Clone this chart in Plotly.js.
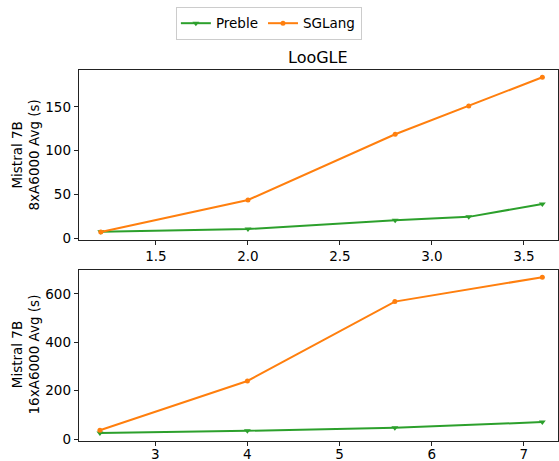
<!DOCTYPE html>
<html><head><meta charset="utf-8">
<script src="https://cdn.plot.ly/plotly-3.0.1.min.js"></script>
<style>html,body{margin:0;padding:0;background:#fff}</style>
</head><body><div id="chart" style="width:559px;height:461px"></div>
<script>
// Top panel: 8xA6000
const topX = [1.2, 2.0, 2.8, 3.2, 3.6];
const topPreble = [8, 11, 21, 24.8, 39.5];
const topSGLang = [7.5, 44, 118.8, 151, 183.6];
// Bottom panel: 16xA6000
const botX = [2.4, 4.0, 5.6, 7.2];
const botPreble = [25, 34, 47, 70];
const botSGLang = [36, 240, 568, 669];

const title = "LooGLE";
const yTitleTop = "Mistral 7B<br>8xA6000 Avg (s)";
const yTitleBot = "Mistral 7B<br>16xA6000 Avg (s)";

const green = '#2ca02c', orange = '#ff7f0e';
const FONT = 'DejaVu Sans, sans-serif';

const traces = [
  {x: topX, y: topPreble, name: 'Preble', mode: 'lines+markers', xaxis: 'x', yaxis: 'y',
   line: {color: green, width: 2}, marker: {symbol: 'triangle-down', size: 6, color: green}, legendgroup: 'p'},
  {x: topX, y: topSGLang, name: 'SGLang', mode: 'lines+markers', xaxis: 'x', yaxis: 'y',
   line: {color: orange, width: 2}, marker: {symbol: 'circle', size: 5, color: orange}, legendgroup: 's'},
  {x: botX, y: botPreble, name: 'Preble', mode: 'lines+markers', xaxis: 'x2', yaxis: 'y2', showlegend: false,
   line: {color: green, width: 2}, marker: {symbol: 'triangle-down', size: 6, color: green}, legendgroup: 'p'},
  {x: botX, y: botSGLang, name: 'SGLang', mode: 'lines+markers', xaxis: 'x2', yaxis: 'y2', showlegend: false,
   line: {color: orange, width: 2}, marker: {symbol: 'circle', size: 5, color: orange}, legendgroup: 's'}
];

const ax = {
  showline: true, mirror: true, linecolor: '#222', linewidth: 1,
  showgrid: false, zeroline: false, ticks: 'outside', ticklen: 4, tickcolor: '#222',
  tickfont: {family: FONT, size: 13.5, color: '#000'}
};

const layout = {
  width: 559, height: 461,
  margin: {l: 0, r: 0, t: 0, b: 0},
  paper_bgcolor: '#fff', plot_bgcolor: '#fff',
  font: {family: FONT, color: '#000'},
  showlegend: true,
  legend: {orientation: 'h', x: 0.481, xanchor: 'center', y: 0.985, yanchor: 'top',
    bordercolor: '#cccccc', borderwidth: 1, font: {family: FONT, size: 13.5}},
  xaxis: Object.assign({}, ax, {domain: [0.1408, 0.9982], range: [1.08, 3.685], anchor: 'y',
    tickvals: [1.5, 2.0, 2.5, 3.0, 3.5], ticktext: ['1.5','2.0','2.5','3.0','3.5']}),
  yaxis: Object.assign({}, ax, {domain: [0.4794, 0.8488], range: [-1.5, 192.2], anchor: 'x',
    tickvals: [0, 50, 100, 150]}),
  xaxis2: Object.assign({}, ax, {domain: [0.1408, 0.9982], range: [2.17, 7.37], anchor: 'y2',
    tickvals: [3, 4, 5, 6, 7], ticklabelstandoff: -3}),
  yaxis2: Object.assign({}, ax, {domain: [0.044, 0.415], range: [-7, 700], anchor: 'x2',
    tickvals: [0, 200, 400, 600]}),
  annotations: [
    {text: title, xref: 'paper', yref: 'paper', x: 0.5693, y: 1 - 57/461, xanchor: 'center', yanchor: 'middle',
     showarrow: false, font: {family: FONT, size: 16, color: '#000'}},
    {text: yTitleTop, xref: 'paper', yref: 'paper', x: 25.5/559, y: 1 - 155/461, xanchor: 'center', yanchor: 'middle',
     textangle: -90, showarrow: false, font: {family: FONT, size: 13.5, color: '#000'}},
    {text: yTitleBot, xref: 'paper', yref: 'paper', x: 25.5/559, y: 1 - 355/461, xanchor: 'center', yanchor: 'middle',
     textangle: -90, showarrow: false, font: {family: FONT, size: 13.5, color: '#000'}}
  ]
};

Plotly.newPlot('chart', traces, layout, {displayModeBar: false, staticPlot: true});
</script></body></html>
